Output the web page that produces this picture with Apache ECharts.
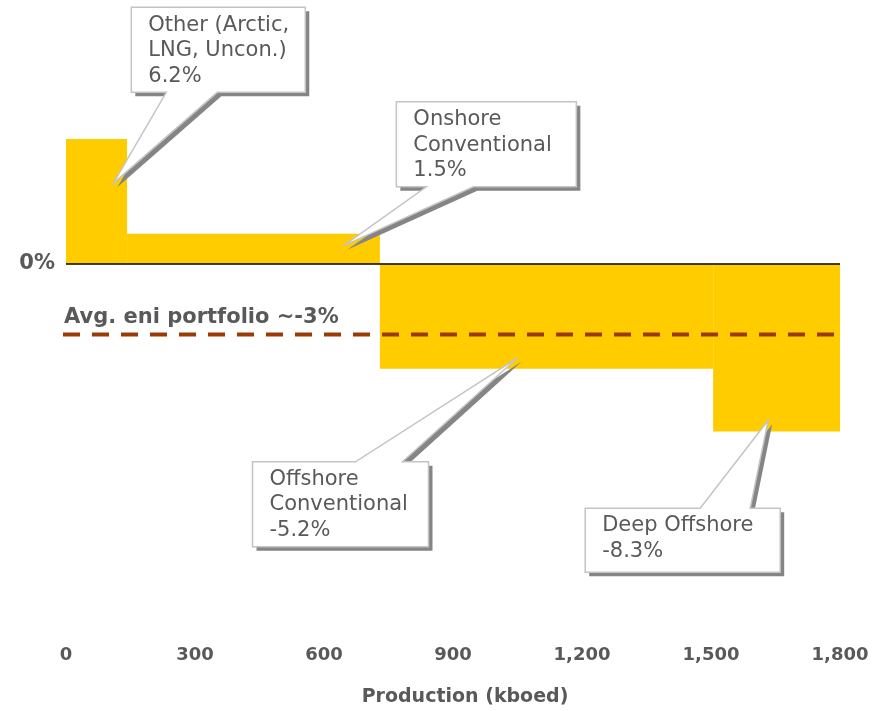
<!DOCTYPE html>
<html>
<head>
<meta charset="utf-8">
<script src="https://cdn.jsdelivr.net/npm/echarts@6/dist/echarts.min.js"></script>
<style>
  html, body { margin: 0; padding: 0; background: #ffffff; }
  #chart { width: 888px; height: 711px; }
</style>
</head>
<body>
<div id="chart"></div>
<script>
// Segments of the portfolio: production share (kboed) and IRR delta (%)
const segments = ['Other (Arctic,\nLNG, Uncon.)', 'Onshore\nConventional', 'Offshore\nConventional', 'Deep Offshore'];
const production = [142, 588, 775, 295];
const irrDelta = [6.2, 1.5, -5.2, -8.3];
const portfolioAvg = -3.5;
const avgLabel = 'Avg. eni portfolio ~-3%';
const xTickStep = 300;
const xMax = 1800;

// Callout anchors in data space (x in kboed, y in %) and box placement in px relative to the anchor
const calloutAnchors = [[110, 4.0], [645, 0.9], [1050, -4.65], [1633, -7.75]];
const calloutBoxes = [
  { dx: 18, dy: -176, w: 174, h: 85, side: 'bottom', b0: 35, b1: 86 },
  { dx: 53, dy: -144, w: 180, h: 85, side: 'bottom', b0: 30, b1: 77 },
  { dx: -265, dy: 104, w: 176, h: 85, side: 'top', b0: 103, b1: 150 },
  { dx: -183, dy: 88, w: 195, h: 64, side: 'top', b0: 115, b1: 165 }
];

// Cumulative start/end of each variable-width column
const barData = [];
let acc = 0;
production.forEach((w, i) => {
  barData.push([acc, acc + w, irrDelta[i]]);
  acc += w;
});

const FONT = 'DejaVu Sans';
const TEXT = '#595959';

const chart = echarts.init(document.getElementById('chart'), null, { renderer: 'canvas' });

const option = {
  animation: false,
  backgroundColor: '#ffffff',
  grid: { left: 66, right: 48, top: 22, bottom: 84, containLabel: false, outerBoundsMode: 'none' },
  xAxis: {
    type: 'value',
    min: 0,
    max: xMax,
    interval: xTickStep,
    name: 'Production (kboed)',
    nameLocation: 'middle',
    nameGap: 61,
    nameTextStyle: {
      fontFamily: FONT, fontWeight: 'bold', fontSize: 19, color: TEXT,
      padding: [0, 0, 0, 24]
    },
    axisLine: { show: false },
    axisTick: { show: false },
    splitLine: { show: false },
    axisLabel: {
      margin: 19,
      fontFamily: FONT, fontWeight: 'bold', fontSize: 18, color: TEXT,
      formatter: v => v.toLocaleString('en-US')
    }
  },
  yAxis: {
    type: 'value',
    min: -18,
    max: 12,
    interval: 6,
    axisLine: { show: false },
    axisTick: { show: false },
    splitLine: { show: false },
    axisLabel: {
      margin: 11,
      fontFamily: FONT, fontWeight: 'bold', fontSize: 21, color: TEXT,
      formatter: v => (v === 0 ? '0%' : '')
    }
  },
  series: [
    {
      name: 'columns',
      type: 'custom',
      z: 2,
      data: barData,
      encode: { x: [0, 1], y: 2 },
      renderItem: (params, api) => {
        const p0 = api.coord([api.value(0), api.value(2)]);
        const p1 = api.coord([api.value(1), 0]);
        return {
          type: 'rect',
          shape: {
            x: Math.min(p0[0], p1[0]),
            y: Math.min(p0[1], p1[1]),
            width: Math.abs(p1[0] - p0[0]),
            height: Math.abs(p1[1] - p0[1])
          },
          style: { fill: '#FFCC00' }
        };
      }
    },
    {
      name: 'zero',
      type: 'custom',
      z: 3,
      data: [[0, xMax, 0]],
      encode: { x: [0, 1], y: 2 },
      renderItem: (params, api) => {
        const a = api.coord([api.value(0), api.value(2)]);
        const b = api.coord([api.value(1), api.value(2)]);
        return {
          type: 'line',
          shape: { x1: a[0], y1: a[1], x2: b[0], y2: b[1] },
          style: { stroke: '#000000', lineWidth: 1.5 }
        };
      }
    },
    {
      name: 'average',
      type: 'custom',
      z: 3,
      clip: false,
      data: [[0, xMax, portfolioAvg]],
      encode: { x: [0, 1], y: 2 },
      renderItem: (params, api) => {
        const a = api.coord([api.value(0), api.value(2)]);
        const b = api.coord([api.value(1), api.value(2)]);
        return {
          type: 'group',
          children: [
            {
              type: 'line',
              shape: { x1: a[0] - 3, y1: a[1], x2: b[0], y2: b[1] },
              style: { stroke: '#9C3A06', lineWidth: 4, lineDash: [17, 12] }
            },
            {
              type: 'text',
              x: a[0] - 2,
              y: a[1] - 17,
              style: {
                text: avgLabel,
                fontFamily: FONT, fontWeight: 'bold', fontSize: 21,
                fill: TEXT, align: 'left', verticalAlign: 'middle'
              }
            }
          ]
        };
      }
    },
    {
      name: 'callouts',
      type: 'custom',
      z: 5,
      clip: false,
      data: calloutAnchors.map((c, i) => [c[0], c[1], i]),
      encode: { x: 0, y: 1 },
      renderItem: (params, api) => {
        const i = api.value(2);
        const tip = api.coord([api.value(0), api.value(1)]);
        const L = calloutBoxes[i];
        const x0 = tip[0] + L.dx, y0 = tip[1] + L.dy;
        const x1 = x0 + L.w, y1 = y0 + L.h;
        let pts;
        if (L.side === 'bottom') {
          pts = [[x0, y0], [x1, y0], [x1, y1], [x0 + L.b1, y1], tip, [x0 + L.b0, y1], [x0, y1]];
        } else {
          pts = [[x0, y0], [x0 + L.b0, y0], tip, [x0 + L.b1, y0], [x1, y0], [x1, y1], [x0, y1]];
        }
        const shadowPts = pts.map(p => [p[0] + 4, p[1] + 4]);
        const text = segments[i] + '\n' + irrDelta[i].toFixed(1) + '%';
        return {
          type: 'group',
          children: [
            {
              type: 'polygon',
              shape: { points: shadowPts },
              style: { fill: '#858585' }
            },
            {
              type: 'polygon',
              shape: { points: pts },
              style: { fill: '#ffffff', stroke: '#c4c4c4', lineWidth: 1.5 }
            },
            {
              type: 'text',
              x: x0 + 17,
              y: y0 + 5,
              style: {
                text: text,
                fontFamily: FONT, fontSize: 21, lineHeight: 25.5,
                fill: TEXT, align: 'left', verticalAlign: 'top'
              }
            }
          ]
        };
      }
    }
  ]
};

chart.setOption(option);
</script>
</body>
</html>
